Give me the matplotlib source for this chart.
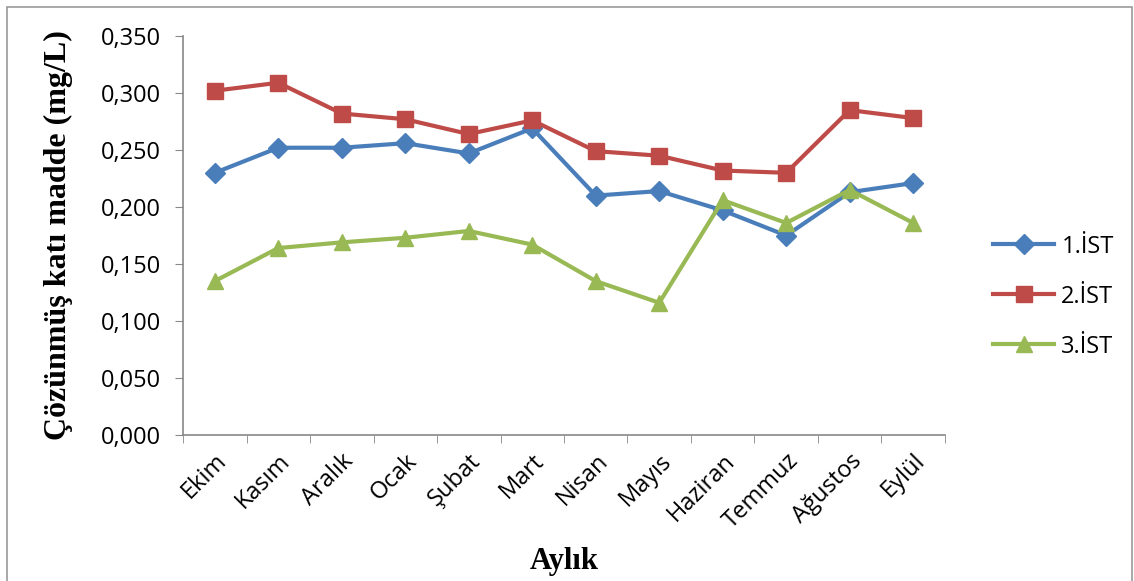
import matplotlib.pyplot as plt
from matplotlib.patches import Rectangle

# Monthly values
months = ['Ekim', 'Kasım', 'Aralık', 'Ocak', 'Şubat', 'Mart',
          'Nisan', 'Mayıs', 'Haziran', 'Temmuz', 'Ağustos', 'Eylül']
ist1 = [0.230, 0.252, 0.252, 0.256, 0.247, 0.269, 0.210, 0.214, 0.197, 0.175, 0.213, 0.221]
ist2 = [0.302, 0.309, 0.282, 0.277, 0.264, 0.276, 0.249, 0.245, 0.232, 0.230, 0.285, 0.278]
ist3 = [0.135, 0.164, 0.169, 0.173, 0.179, 0.167, 0.135, 0.116, 0.206, 0.186, 0.215, 0.186]
yticks = [0.0, 0.05, 0.10, 0.15, 0.20, 0.25, 0.30, 0.35]

fig = plt.figure(figsize=(11.34, 5.81), dpi=100)
ax = fig.add_axes([0.1614, 0.2513, 0.6719, 0.6867])

x = list(range(len(months)))
ax.plot(x, ist1, color='#4A7EBB', lw=3, marker='D', ms=10, label='1.İST')
ax.plot(x, ist2, color='#BE4B48', lw=3, marker='s', ms=12, label='2.İST')
ax.plot(x, ist3, color='#98B954', lw=3, marker='^', ms=12, label='3.İST')

ax.set_xlim(-0.5, len(months) - 0.5)
ax.set_ylim(0, 0.35)
ax.set_yticks(yticks)
ax.set_yticklabels([f'{v:.3f}'.replace('.', ',') for v in yticks],
                   fontfamily='Open Sans', fontsize=17)
ax.set_xticks(x)
ax.set_xticklabels(months, rotation=45, ha='right', rotation_mode='anchor',
                   fontfamily='Open Sans', fontsize=17)
ax.set_xticks([i - 0.5 for i in range(len(months) + 1)], minor=True)
ax.tick_params(axis='x', which='major', length=0, pad=10)
ax.tick_params(axis='x', which='minor', length=6, color='#888888', direction='out')
ax.tick_params(axis='y', length=6, color='#888888', direction='out', pad=10)

for side in ['top', 'right']:
    ax.spines[side].set_visible(False)
for side in ['left', 'bottom']:
    ax.spines[side].set_color('#888888')
    ax.spines[side].set_linewidth(1.2)

ax.set_ylabel('Çözünmüş katı madde (mg/L)', fontfamily='Liberation Serif',
              fontweight='bold', fontsize=23, labelpad=20)
ax.set_xlabel('Aylık', fontfamily='Liberation Serif', fontweight='bold',
              fontsize=22, labelpad=10)

ax.legend(loc='center left', bbox_to_anchor=(1.035, 0.347), frameon=False,
          prop={'family': 'Open Sans', 'size': 17}, labelspacing=1.1,
          handlelength=2.6, handletextpad=0.3)

# Outer chart frame
fig.patches.append(Rectangle((7 / 1134, -0.01), 1125 / 1134, 1 - 7 / 581 + 0.01,
                             transform=fig.transFigure, fill=False,
                             edgecolor='#999999', lw=1.2))

fig.savefig('out.png', dpi=100)
